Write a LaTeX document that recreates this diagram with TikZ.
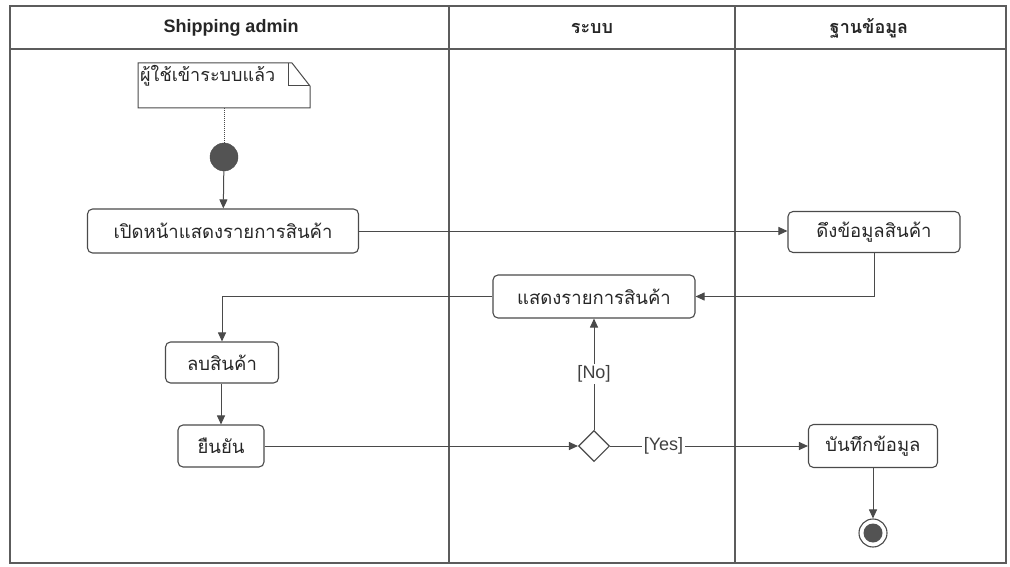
\documentclass[tikz,border=0pt]{standalone}
\usepackage{fontspec}
\setmainfont{Liberation Sans}
\newfontfamily\thai[Script=Thai]{Loma}
\usetikzlibrary{arrows.meta,shapes.geometric,calc}
\definecolor{ln}{HTML}{4A4A4A}
\begin{document}
\begin{tikzpicture}[x=1pt,y=-1pt,
  frame/.style={draw=ln!90, line width=1.2pt},
  line/.style={draw=ln, line width=1pt},
  arr/.style={line, -{Triangle[length=9pt,width=8pt]}},
  act/.style={draw=ln, line width=1.1pt, rounded corners=5pt, font=\thai\fontsize{18.5}{20}\selectfont, inner sep=0pt, text=black!85},
  head/.style={font=\bfseries\fontsize{18}{20}\selectfont, text=black!85},
  thead/.style={font=\thai\bfseries\fontsize{18}{20}\selectfont, text=black!85},
  lbl/.style={font=\fontsize{18}{20}\selectfont, fill=white, inner sep=1.5pt, text=black!75}
]
\useasboundingbox (0,0) rectangle (1010,567);
% swimlane frame
\draw[frame] (10,6) rectangle (1006,563);
\draw[frame] (10,49) -- (1006,49);
\draw[frame] (449,6) -- (449,563);
\draw[frame] (735,6) -- (735,563);
\node[head] (h1) at (231,28) {Shipping admin};
\node[thead] (h2) at (592,28) {ระบบ};
\node[thead] (h3) at (869,28) {ฐานข้อมูล};
% note
\coordinate (nNW) at (138,63);
\coordinate (nSE) at (310,108);
\node[anchor=north west, inner sep=1pt, font=\thai\fontsize{18}{20}\selectfont, text=black!85] (notetext) at (139,64.5) {ผู้ใช้เข้าระบบแล้ว};
\draw[line] (nNW) -- (292,63) -- (310,86) -- (nSE) -- (138,108) -- cycle;
\draw[line] (288,63) -- (288,86) -- (310,86);
\coordinate (nS) at (224,108);
% initial node
\node[circle, fill=ln!95, draw=ln, minimum size=28pt, inner sep=0pt] (init) at (224,157) {};
\draw[densely dotted, line] (nS) -- (init.north);
% actions
\node[act, minimum width=271pt, minimum height=44pt] (a1) at (223,231) {เปิดหน้าแสดงรายการสินค้า};
\node[act, minimum width=172pt, minimum height=41pt] (a2) at (874,232) {ดึงข้อมูลสินค้า};
\node[act, minimum width=202pt, minimum height=43pt] (a3) at (594,296.5) {แสดงรายการสินค้า};
\node[act, minimum width=113pt, minimum height=41pt] (a4) at (222,362.5) {ลบสินค้า};
\node[act, minimum width=86pt, minimum height=42pt] (a5) at (221,446) {ยืนยัน};
\node[draw=ln, line width=1.1pt, diamond, minimum size=31pt, inner sep=0pt, fill=white] (d) at (594,446) {};
\node[act, minimum width=129pt, minimum height=43pt] (a6) at (873,446) {บันทึกข้อมูล};
% final node
\node[circle, draw=ln, line width=1.1pt, minimum size=28pt, inner sep=0pt, fill=white] (fin) at (873,533) {};
\node[circle, fill=ln!95, minimum size=19pt, inner sep=0pt] (finin) at (fin) {};
% connectors
\draw[arr] (init) -- (a1);
\draw[arr] (a1.east) -- (a1.east -| a2.west);
\draw[arr] (a2.south) |- (a3.east);
\draw[arr] (a3.west) -| (a4.north);
\draw[arr] (a4.south -| a5.north) -- (a5.north);
\draw[arr] (a5.east) -- (d.west);
\draw[arr] (d.north) -- node[lbl] (no) {[No]} (a3.south);
\draw[arr] (d.east) -- node[lbl, pos=0.27] (yes) {[Yes]} (a6.west);
\draw[arr] (a6.south) -- (fin.north);
\end{tikzpicture}
\end{document}
